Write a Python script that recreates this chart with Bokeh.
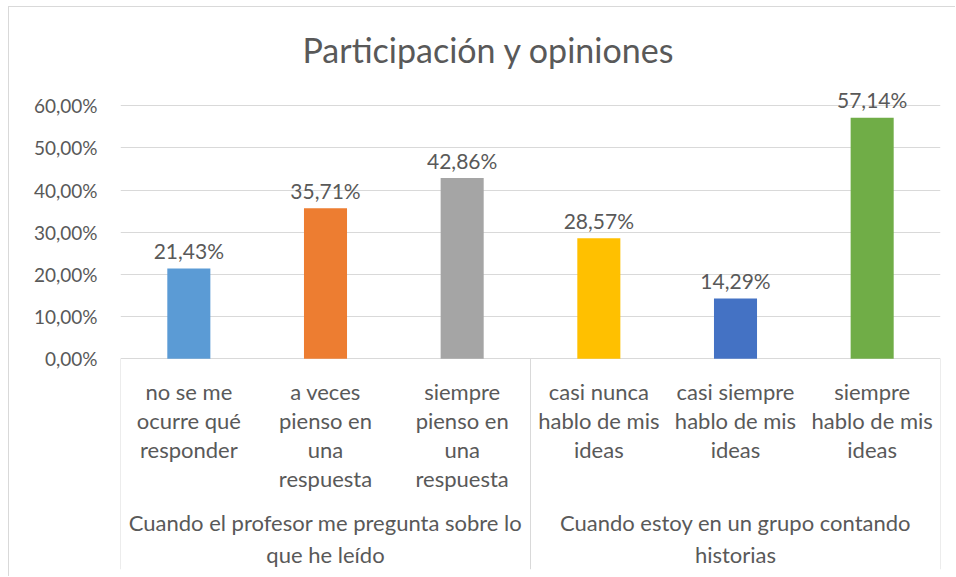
from bokeh.plotting import figure
from bokeh.models import ColumnDataSource, FixedTicker, CustomJSTickFormatter, Range1d
from bokeh.core.properties import value
from bokeh.embed import file_html
from bokeh.resources import INLINE

# ---- data ----
title_text = "Participación y opiniones"
groups = ["Cuando el profesor me pregunta sobre lo\nque he leído",
          "Cuando estoy en un grupo contando\nhistorias"]
group_sizes = [3, 3]
categories = ["no se me\nocurre qué\nresponder",
              "a veces\npienso en\nuna\nrespuesta",
              "siempre\npienso en\nuna\nrespuesta",
              "casi nunca\nhablo de mis\nideas",
              "casi siempre\nhablo de mis\nideas",
              "siempre\nhablo de mis\nideas"]
values = [0.2143, 0.3571, 0.4286, 0.2857, 0.1429, 0.5714]
value_labels = ["21,43%", "35,71%", "42,86%", "28,57%", "14,29%", "57,14%"]
colors = ["#5B9BD5", "#ED7D31", "#A5A5A5", "#FFC000", "#4472C4", "#70AD47"]
y_ticks = [0.0, 0.1, 0.2, 0.3, 0.4, 0.5, 0.6]

FONT = "Lato"
TXT = "#595959"
GRID = "#D9D9D9"

n = len(categories)
cat_x = [i + 0.5 for i in range(n)]

bounds = [0]
for s in group_sizes:
    bounds.append(bounds[-1] + s)
group_x = [(bounds[i] + bounds[i + 1]) / 2 for i in range(len(groups))]

p = figure(width=947, height=570, output_backend="svg", toolbar_location=None,
           x_range=Range1d(0, n), y_range=Range1d(-0.5, 0.66),
           x_axis_type=None,
           min_border_left=111, min_border_right=16,
           min_border_top=73, min_border_bottom=8)
p.styles = {"margin-left": "8px", "margin-top": "6px",
            "border-left": "1px solid #D9D9D9", "border-top": "1px solid #D9D9D9"}
p.outline_line_color = None
p.background_fill_color = "white"
p.border_fill_color = "white"

p.title.text = title_text
p.title.text_font = FONT
p.title.text_font_size = "34px"
p.title.text_font_style = "normal"
p.title.text_color = TXT
p.title.align = "left"
p.title.offset = 182
p.title.vertical_align = "middle"
p.title.standoff = 20

# y axis
ax = p.yaxis[0]
ax.ticker = FixedTicker(ticks=y_ticks)
ax.formatter = CustomJSTickFormatter(code="return (tick*100).toFixed(2).replace('.', ',') + '%';")
ax.axis_line_color = None
ax.major_tick_line_color = None
ax.minor_tick_line_color = None
ax.major_tick_out = 0
ax.major_label_standoff = 23
ax.major_label_text_font = FONT
ax.major_label_text_font_size = "19px"
ax.major_label_text_color = TXT

p.xgrid.visible = False
p.ygrid.ticker = FixedTicker(ticks=y_ticks)
p.ygrid.grid_line_color = GRID
p.ygrid.grid_line_width = 1

src = ColumnDataSource(dict(x=cat_x, top=values, color=colors, lab=value_labels, cat=categories))
p.vbar(x="x", top="top", width=0.315, bottom=0, fill_color="color", line_color=None, source=src)

p.text(x="x", y="top", text="lab", source=src, text_align="center", text_baseline="alphabetic",
       y_offset=-18, text_font=value(FONT), text_font_size="21px", text_color=TXT)

# category labels
p.text(x="x", y=0, text="cat", source=src, text_align="center", text_baseline="top",
       y_offset=19, text_font=value(FONT), text_font_size="22px", text_color=TXT,
       text_line_height=1.08)

# group labels
p.text(x=group_x, y=[0] * len(groups), text=groups, text_align="center", text_baseline="top",
       y_offset=150, text_font=value(FONT), text_font_size="22px", text_color=TXT,
       text_line_height=1.18)

# separators
p.segment(x0=bounds, y0=[0] * len(bounds), x1=bounds, y1=[p.y_range.start] * len(bounds),
          line_color=GRID, line_width=1)

open("out.html", "w").write(file_html(p, INLINE))
